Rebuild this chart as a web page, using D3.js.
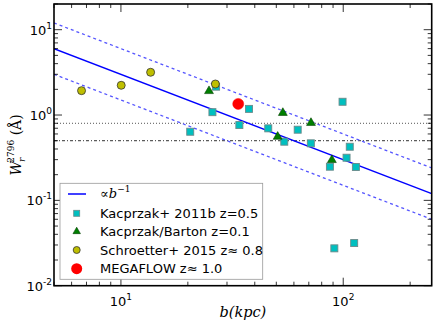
<!DOCTYPE html>
<html><head><meta charset="utf-8">
<script src="https://cdn.jsdelivr.net/npm/d3@7"></script>
<style>body{margin:0;background:#fff}svg{display:block}</style>
</head><body>
<svg id="c" width="436" height="326"></svg>
<script>
// ---- data ----
const kacprzak2011b = [[20.5,0.637],[26.8,2.15],[25.8,1.08],[37.7,1.18],[34.1,0.763],[46.0,0.698],[54.3,0.487],[62.4,0.673],[71.5,0.466],[99.3,1.43],[107,0.425],[103.5,0.316],[87.1,0.248],[114,0.246],[91.2,0.0274],[112,0.0316]];
const kacprzakBarton = [[24.9,1.91],[53.5,1.06],[50.7,0.557],[71.6,0.81],[88.9,0.297]];
const schroetter = [[6.65,1.93],[10.03,2.23],[13.6,3.17],[26.6,2.31]];
const megaflow = [[33.7,1.35]];
const fitAmp = [30, 60, 15];       // W = A / b
const hLines = [0.8, 0.5];
const xDomain = [5, 250], yDomain = [0.01, 20];
const xTickExp = [1, 2], yTickExp = [-2, -1, 0, 1];
const legendLabels = ["Kacprzak+ 2011b z=0.5", "Kacprzak/Barton z=0.1", "Schroetter+ 2015 z\u2248 0.8", "MEGAFLOW z\u2248 1.0"];

const svg = d3.select("#c");
const L = 54, T = 4, R = 431.7, B = 285.7;
const x = d3.scaleLog().domain(xDomain).range([L, R]);
const y = d3.scaleLog().domain(yDomain).range([B, T]);

svg.append("clipPath").attr("id","clp").append("rect").attr("x",L).attr("y",T).attr("width",R-L).attr("height",B-T);
const g = svg.append("g").attr("clip-path","url(#clp)");

// horizontal lines
g.append("line").attr("x1",L).attr("x2",R).attr("y1",y(hLines[0])).attr("y2",y(hLines[0]))
  .attr("stroke","#555").attr("stroke-width",1).attr("stroke-dasharray","1,2");
g.append("line").attr("x1",L).attr("x2",R).attr("y1",y(hLines[1])).attr("y2",y(hLines[1]))
  .attr("stroke","#333").attr("stroke-width",1).attr("stroke-dasharray","3,2,1,2");

// fit lines
const line = d3.line().x(d=>x(d[0])).y(d=>y(d[1]));
fitAmp.forEach((A,i)=>{
  const pts = xDomain.map(b=>[b, A/b]);
  g.append("path").attr("d", line(pts)).attr("fill","none")
   .attr("stroke", i===0 ? "#0000ff" : "#5555ff")
   .attr("stroke-width", i===0 ? 1.5 : 1.3)
   .attr("stroke-dasharray", i===0 ? null : "3,3");
});

// markers
const sq = 7;
g.selectAll(".sq").data(kacprzak2011b).enter().append("rect")
  .attr("x",d=>x(d[0])-sq/2).attr("y",d=>y(d[1])-sq/2).attr("width",sq).attr("height",sq)
  .attr("fill","#00bfbf").attr("stroke","#6a8a8a").attr("stroke-width",0.9);
const tri = d3.symbol().type(d3.symbolTriangle).size(34);
g.selectAll(".tr").data(kacprzakBarton).enter().append("path")
  .attr("d",tri).attr("transform",d=>`translate(${x(d[0])},${y(d[1])})`)
  .attr("fill","#007f00").attr("stroke","#004000").attr("stroke-width",0.6);
g.selectAll(".ci").data(schroetter).enter().append("circle")
  .attr("cx",d=>x(d[0])).attr("cy",d=>y(d[1])).attr("r",4)
  .attr("fill","#bfbf00").attr("stroke","#333").attr("stroke-width",0.8);
g.selectAll(".mf").data(megaflow).enter().append("circle")
  .attr("cx",d=>x(d[0])).attr("cy",d=>y(d[1])).attr("r",5.5)
  .attr("fill","#ff0000").attr("stroke","#ff0000").attr("stroke-width",0.5);

// ticks
const tk = svg.append("g").attr("stroke","#000").attr("stroke-width",0.8);
const xMinor = [], yMinor = [];
for (let e=0;e<=2;e++) for (let m=2;m<10;m++){ const v=m*Math.pow(10,e); if(v>=xDomain[0]&&v<=xDomain[1]) xMinor.push(v); }
for (let e=-2;e<=1;e++) for (let m=2;m<10;m++){ const v=m*Math.pow(10,e); if(v>=yDomain[0]&&v<=yDomain[1]) yMinor.push(v); }
xMinor.forEach(v=>{ const X=x(v); tk.append("line").attr("x1",X).attr("x2",X).attr("y1",B).attr("y2",B-4);
  tk.append("line").attr("x1",X).attr("x2",X).attr("y1",T).attr("y2",T+4); });
xTickExp.forEach(e=>{ const X=x(Math.pow(10,e)); tk.append("line").attr("x1",X).attr("x2",X).attr("y1",B).attr("y2",B-8);
  tk.append("line").attr("x1",X).attr("x2",X).attr("y1",T).attr("y2",T+8); });
yMinor.forEach(v=>{ const Y=y(v); tk.append("line").attr("x1",L).attr("x2",L+4).attr("y1",Y).attr("y2",Y);
  tk.append("line").attr("x1",R).attr("x2",R-4).attr("y1",Y).attr("y2",Y); });
yTickExp.forEach(e=>{ const Y=y(Math.pow(10,e)); tk.append("line").attr("x1",L).attr("x2",L+8).attr("y1",Y).attr("y2",Y);
  tk.append("line").attr("x1",R).attr("x2",R-8).attr("y1",Y).attr("y2",Y); });

// frame
svg.append("rect").attr("x",L).attr("y",T).attr("width",R-L).attr("height",B-T)
  .attr("fill","none").attr("stroke","#000").attr("stroke-width",1.6);

// tick labels
const font = "DejaVu Sans, sans-serif";
xTickExp.forEach(e=>{
  const t = svg.append("text").attr("x",x(Math.pow(10,e))).attr("y",B+20).attr("text-anchor","middle")
    .attr("font-family",font).attr("font-size",13);
  t.append("tspan").text("10");
  t.append("tspan").attr("font-size",9).attr("dy",-6).text(e);
});
yTickExp.forEach(e=>{
  const t = svg.append("text").attr("x",L-2).attr("y",y(Math.pow(10,e))+5).attr("text-anchor","end")
    .attr("font-family",font).attr("font-size",13);
  t.append("tspan").text("10");
  t.append("tspan").attr("font-size",9).attr("dy",-6).text(e);
});

// axis labels
const serif = "DejaVu Serif, serif";
svg.append("text").attr("x",(L+R)/2).attr("y",317).attr("text-anchor","middle")
  .attr("font-family",serif).attr("font-style","italic").attr("font-size",14.5).text("b(kpc)");
const yl = svg.append("text").attr("transform",`translate(21,${(T+B)/2}) rotate(-90)`).attr("text-anchor","middle")
  .attr("font-family",serif).attr("font-size",14);
yl.append("tspan").attr("font-style","italic").text("W");
yl.append("tspan").attr("font-style","italic").attr("font-size",9).attr("dy",4).attr("dx",-1).text("r");
yl.append("tspan").attr("font-size",9).attr("dy",-11).attr("dx",-5).text("2796");
yl.append("tspan").attr("dy",7).text(" (Å)");

// legend
const lg = svg.append("g");
lg.append("rect").attr("x",60).attr("y",183.3).attr("width",202.7).attr("height",96)
  .attr("fill","#fff").attr("stroke","#999").attr("stroke-width",0.8);
const ly = [194, 213.3, 231.5, 250, 268.7], mx = 76.7, tx = 100;
lg.append("line").attr("x1",68).attr("x2",86).attr("y1",ly[0]).attr("y2",ly[0]).attr("stroke","#0000ff").attr("stroke-width",1.5);
const lt = lg.append("text").attr("x",tx).attr("y",ly[0]+4).attr("font-family",serif).attr("font-size",13);
lt.append("tspan").text("\u221D");
lt.append("tspan").attr("font-style","italic").text("b");
lt.append("tspan").attr("font-size",9).attr("dy",-6).text("\u22121");
lg.append("rect").attr("x",mx-3).attr("y",ly[1]-3).attr("width",6).attr("height",6).attr("fill","#00bfbf").attr("stroke","#6a8a8a").attr("stroke-width",0.8);
lg.append("path").attr("d",d3.symbol().type(d3.symbolTriangle).size(24)).attr("transform",`translate(${mx},${ly[2]})`).attr("fill","#007f00").attr("stroke","#004000").attr("stroke-width",0.6);
lg.append("circle").attr("cx",mx).attr("cy",ly[3]).attr("r",3.5).attr("fill","#bfbf00").attr("stroke","#333").attr("stroke-width",0.8);
lg.append("circle").attr("cx",mx).attr("cy",ly[4]).attr("r",5.5).attr("fill","#ff0000");
legendLabels.forEach((s,i)=>{
  lg.append("text").attr("x",tx).attr("y",ly[i+1]+4.5).attr("font-family",font).attr("font-size",13).text(s);
});
</script>
</body></html>
